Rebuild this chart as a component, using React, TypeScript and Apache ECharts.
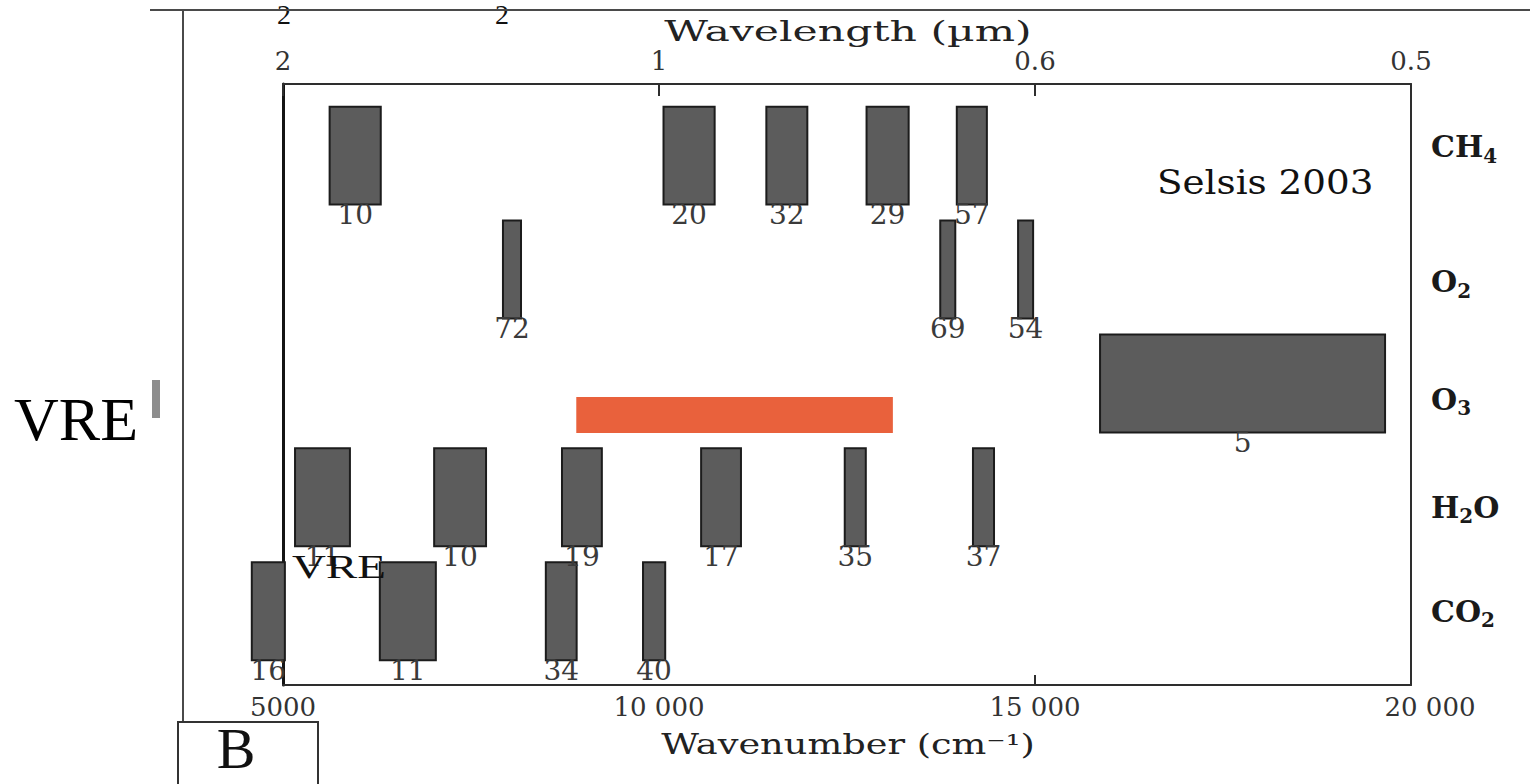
import React, { useEffect, useRef } from "react";
import * as echarts from "echarts";

// Rows, bottom (0) to top (4)
const molecules = ["CO₂", "H₂O", "O₃", "O₂", "CH₄"];

// Band centres (cm⁻¹), band widths (cm⁻¹) and the numbers printed under them
const co2Centers = [4805, 6660, 8700, 9935];
const co2Widths = [440, 745, 410, 295];
const co2Labels = [16, 11, 34, 40];

const h2oCenters = [5525, 7355, 8975, 10825, 12610, 14315];
const h2oWidths = [730, 690, 530, 530, 280, 280];
const h2oLabels = [11, 10, 19, 17, 35, 37];

const o3Centers = [17760];
const o3Widths = [3790];
const o3Labels = [5];

const o2Centers = [8045, 13840, 14875];
const o2Widths = [240, 200, 200];
const o2Labels = [72, 69, 54];

const ch4Centers = [5960, 10400, 11700, 13040, 14160];
const ch4Widths = [680, 680, 545, 560, 400];
const ch4Labels = [10, 20, 32, 29, 57];

// Tick labels
const wavenumberTicks = [5000, 10000, 15000, 20000];
const wavenumberTickLabels = ["5000", "10 000", "15 000", "20 000"];
const wavelengthTickLabels = ["2", "1", "0.6", "0.5"];

// Highlighted (orange) band: wavenumber range and vertical extent in row units
const vreBandRange = [8900, 13110];
const vreBandLevels = [1.565, 1.881];

const rowCenters = [co2Centers, h2oCenters, o3Centers, o2Centers, ch4Centers];
const rowWidths = [co2Widths, h2oWidths, o3Widths, o2Widths, ch4Widths];
const rowLabels = [co2Labels, h2oLabels, o3Labels, o2Labels, ch4Labels];

const Y_MIN = -0.648;
const Y_MAX = 4.629;
const HALF = 0.43;

const SERIF = '"DejaVu Serif", serif';
const TIMES = '"Liberation Serif", "Times New Roman", serif';

// vertical nudge (px, down positive) of each row name, as typeset in the figure
const nameNudge = [0, 10, 16, 12, -9];
const SUB_DROP = 9;

const SUBS: Record<string, string> = { "₀": "0", "₁": "1", "₂": "2", "₃": "3", "₄": "4" };

function pad(shift: number) {
  return [Math.max(0, 2 * shift), 0, Math.max(0, -2 * shift), 0];
}

export default function App() {
  const ref = useRef<HTMLDivElement>(null);

  useEffect(() => {
    if (!ref.current) return;
    const chart = echarts.init(ref.current, undefined, { renderer: "svg" });

    const bandData: number[][] = [];
    rowCenters.forEach((centers, row) => {
      centers.forEach((c, i) => {
        bandData.push([c, rowWidths[row][i], row, rowLabels[row][i]]);
      });
    });

    const rich: Record<string, any> = {};
    molecules.forEach((_m, i) => {
      rich["m" + i] = {
        fontFamily: SERIF,
        fontWeight: "bold",
        fontSize: 30,
        color: "#1a1a1a",
        padding: pad(nameNudge[i]),
      };
      rich["s" + i] = {
        fontFamily: SERIF,
        fontWeight: "bold",
        fontSize: 20,
        color: "#1a1a1a",
        padding: pad(nameNudge[i] + SUB_DROP),
      };
    });

    const formatName = (i: number) => {
      const name = molecules[i];
      if (!name) return "";
      let out = "";
      let buf = "";
      let bufSub = false;
      const flush = () => {
        if (buf) out += "{" + (bufSub ? "s" : "m") + i + "|" + buf + "}";
        buf = "";
      };
      for (const ch of name) {
        const isSub = ch in SUBS;
        if (isSub !== bufSub) {
          flush();
          bufSub = isSub;
        }
        buf += isSub ? SUBS[ch] : ch;
      }
      flush();
      return out;
    };

    const option: any = {
      animation: false,
      backgroundColor: "#ffffff",
      grid: {
        left: 283,
        right: 119,
        top: 84,
        bottom: 99,
        containLabel: false,
        outerBoundsMode: "none",
      },
      xAxis: [
        {
          type: "value",
          position: "bottom",
          min: 5000,
          max: 20000,
          interval: 5000,
          splitLine: { show: false },
          axisLine: { show: true, onZero: false, lineStyle: { color: "#2e2e2e", width: 2 } },
          axisTick: {
            show: true,
            inside: true,
            length: 10,
            customValues: [15000],
            lineStyle: { color: "#2e2e2e", width: 2 },
          },
          axisLabel: {
            show: true,
            showMinLabel: true,
            showMaxLabel: true,
            margin: 9,
            fontFamily: SERIF,
            fontSize: 26,
            color: "#333333",
            formatter: (v: number) => {
              const i = wavenumberTicks.indexOf(v);
              if (i < 0) return "";
              if (i === wavenumberTicks.length - 1) return "{r|" + wavenumberTickLabels[i] + "}";
              return wavenumberTickLabels[i];
            },
            rich: {
              r: { fontFamily: SERIF, fontSize: 26, color: "#333333", padding: [0, 0, 0, 38] },
            },
          },
        },
        {
          type: "value",
          position: "top",
          min: 5000,
          max: 20000,
          interval: 5000,
          splitLine: { show: false },
          axisLine: { show: true, onZero: false, lineStyle: { color: "#2e2e2e", width: 2 } },
          axisTick: {
            show: true,
            inside: true,
            length: 12,
            customValues: [5000, 10000, 15000],
            lineStyle: { color: "#2e2e2e", width: 2 },
          },
          axisLabel: {
            show: true,
            showMinLabel: true,
            showMaxLabel: true,
            margin: 10,
            fontFamily: SERIF,
            fontSize: 26,
            color: "#333333",
            formatter: (v: number) => {
              const i = wavenumberTicks.indexOf(v);
              return i < 0 ? "" : wavelengthTickLabels[i];
            },
          },
        },
      ],
      yAxis: [
        {
          type: "value",
          position: "right",
          min: Y_MIN,
          max: Y_MAX,
          splitLine: { show: false },
          axisLine: { show: true, onZero: false, lineStyle: { color: "#2e2e2e", width: 2 } },
          axisTick: { show: false },
          axisLabel: {
            show: true,
            customValues: [0, 1, 2, 3, 4],
            formatter: (v: number) => formatName(Math.round(v)),
            rich,
            margin: 20,
            fontFamily: SERIF,
            fontWeight: "bold",
            fontSize: 30,
            color: "#1a1a1a",
          },
        },
        {
          type: "value",
          position: "left",
          min: Y_MIN,
          max: Y_MAX,
          splitLine: { show: false },
          axisLine: { show: true, onZero: false, lineStyle: { color: "#141414", width: 3 } },
          axisTick: { show: false },
          axisLabel: { show: false },
        },
      ],
      series: [
        {
          type: "custom",
          name: "bands",
          xAxisIndex: 0,
          yAxisIndex: 0,
          clip: false,
          data: bandData,
          z: 3,
          renderItem: (_params: any, api: any) => {
            const c = api.value(0);
            const w = api.value(1);
            const r = api.value(2);
            const p0 = api.coord([c - w / 2, r + HALF]);
            const p1 = api.coord([c + w / 2, r - HALF]);
            return {
              type: "group",
              children: [
                {
                  type: "rect",
                  shape: { x: p0[0], y: p0[1], width: p1[0] - p0[0], height: p1[1] - p0[1] },
                  style: { fill: "#5c5c5c", stroke: "#1c1c1c", lineWidth: 2 },
                },
                {
                  type: "text",
                  x: (p0[0] + p1[0]) / 2,
                  y: p1[1] - 4,
                  style: {
                    text: String(api.value(3)),
                    fill: "#3a3a3a",
                    font: "28px " + SERIF,
                    align: "center",
                    verticalAlign: "top",
                  },
                },
              ],
            };
          },
        },
        {
          type: "custom",
          name: "highlight",
          xAxisIndex: 0,
          yAxisIndex: 0,
          clip: false,
          z: 4,
          data: [[vreBandRange[0], vreBandRange[1], vreBandLevels[0], vreBandLevels[1]]],
          renderItem: (_params: any, api: any) => {
            const p0 = api.coord([api.value(0), api.value(3)]);
            const p1 = api.coord([api.value(1), api.value(2)]);
            return {
              type: "rect",
              shape: { x: p0[0], y: p0[1], width: p1[0] - p0[0], height: p1[1] - p0[1] },
              style: { fill: "#E9613C" },
            };
          },
        },
      ],
      graphic: [
        // subscripts of the caption cut off above the figure
        { type: "text", x: 284, y: 14, style: { text: "2", font: "28px " + TIMES, fill: "#111", align: "center", verticalAlign: "middle" } },
        { type: "text", x: 502, y: 14, style: { text: "2", font: "28px " + TIMES, fill: "#111", align: "center", verticalAlign: "middle" } },
        // outer frame lines
        { type: "line", shape: { x1: 150, y1: 10, x2: 1530, y2: 10 }, style: { stroke: "#4a4a4a", lineWidth: 2 } },
        { type: "line", shape: { x1: 183, y1: 10, x2: 183, y2: 722 }, style: { stroke: "#4a4a4a", lineWidth: 2 } },
        // panel letter box
        { type: "rect", shape: { x: 178, y: 722, width: 140, height: 80 }, style: { fill: "none", stroke: "#333", lineWidth: 2 } },
        { type: "text", x: 236, y: 748, style: { text: "B", font: "58px " + TIMES, fill: "#111", align: "center", verticalAlign: "middle" } },
        // left VRE marker
        { type: "text", x: 14, y: 419, style: { text: "VRE", font: "62px " + TIMES, fill: "#000", align: "left", verticalAlign: "middle" } },
        { type: "rect", shape: { x: 152, y: 380, width: 8, height: 38 }, style: { fill: "#8d8d8d" } },
        // small VRE inside the plot
        { type: "text", x: 292, y: 566, scaleX: 1.38, z: 10, style: { text: "VRE", font: "34px " + TIMES, fill: "#111", align: "left", verticalAlign: "middle" } },
        // source
        { type: "text", x: 1157, y: 182, scaleX: 1.13, style: { text: "Selsis 2003", font: "33px " + SERIF, fill: "#111", align: "left", verticalAlign: "middle" } },
        // axis titles
        { type: "text", x: 848, y: 31, scaleX: 1.52, style: { text: "Wavelength (µm)", font: "28px " + SERIF, fill: "#222", align: "center", verticalAlign: "middle" } },
        { type: "text", x: 848, y: 745, scaleX: 1.36, style: { text: "Wavenumber (cm⁻¹)", font: "27px " + SERIF, fill: "#222", align: "center", verticalAlign: "middle" } },
      ],
    };

    chart.setOption(option);
    return () => {
      chart.dispose();
    };
  }, []);

  return (
    <div
      ref={ref}
      style={{ position: "fixed", left: 0, top: 0, width: 1530, height: 784, background: "#fff" }}
    />
  );
}
